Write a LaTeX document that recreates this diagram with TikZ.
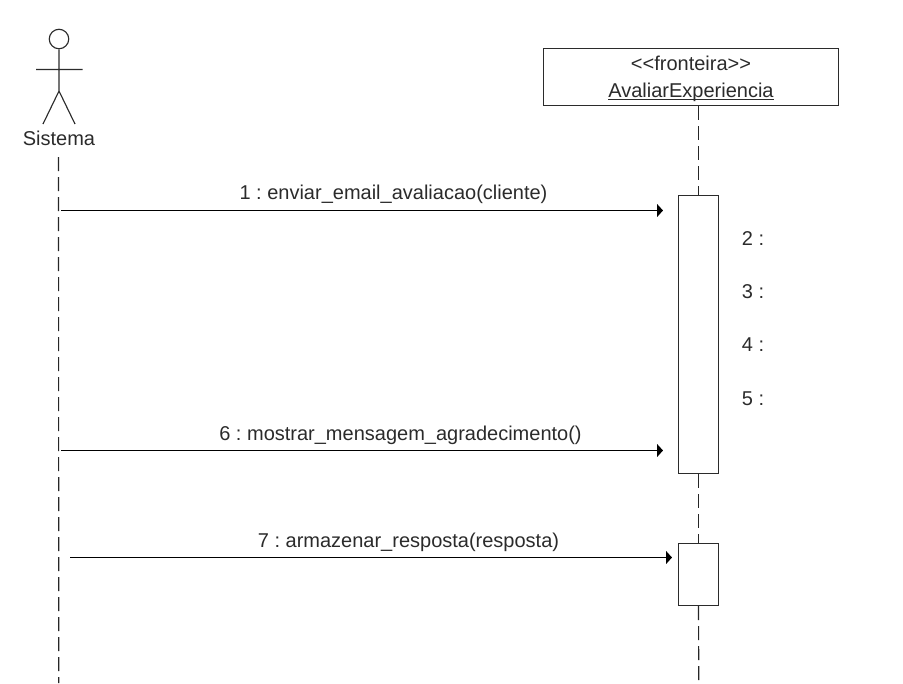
\documentclass[tikz,border=0pt]{standalone}
\usepackage{fontspec}
\setmainfont{Liberation Sans}
\usetikzlibrary{arrows.meta}
\definecolor{inkc}{HTML}{2B2B2B}
\tikzset{
  x=0.75pt,y=-0.75pt,
  label text/.style={anchor=base,inner sep=0pt,text=inkc,font=\fontsize{15}{18}\selectfont\frenchspacing},
  shape line/.style={draw=inkc,line width=0.85pt},
  lifeline/.style={draw=black!85,line width=0.85pt,dash pattern=on 10.5pt off 4.5pt},
  message/.style={draw=black,line width=0.95pt,-{Triangle[length=4.4pt,width=9.5pt]}},
  frame box/.style={shape line,fill=white,rectangle,inner sep=0pt,minimum width=221.25pt,minimum height=42.75pt},
  activation/.style={shape line,fill=white,rectangle,inner sep=0pt,minimum width=30pt}
}
\begin{document}
\begin{tikzpicture}
\useasboundingbox (0,0) rectangle (903,683);
% actor
\node[shape line,circle,inner sep=0pt,minimum size=14.6pt] (head) at (59,39) {};
\coordinate (hip) at (59,91);
\coordinate (armL) at (36,69.5);
\coordinate (armR) at (82.5,69.5);
\coordinate (legL) at (43,124);
\coordinate (legR) at (75,124);
\draw[shape line] (head.south) -- (hip) (armL) -- (armR) (legL) -- (hip) -- (legR);
\node[label text] (sistema) at (59,145) {Sistema};
% boundary object
\node[frame box] (frame) at (691,77) {};
\node[label text] (stereo) at (691,70) {<{}<fronteira>{}>};
\node[label text] (objname) at (691,97) {\underline{\smash{AvaliarExperiencia}}};
% activations
\node[activation,minimum height=208.5pt] (act1) at (698.5,334.5) {};
\node[activation,minimum height=46.5pt] (act2) at (698.5,574.5) {};
% lifelines
\coordinate (sysTop) at (58.5,157);
\coordinate (sysEnd) at (58.8,683);
\coordinate (objEnd) at (698.8,680);
\draw[lifeline] (sysTop) -- (sysEnd);
\draw[lifeline] (frame.south -| act1.north) -- (act1.north);
\draw[lifeline] (act1.south) -- (act2.north);
\draw[lifeline] (act2.south) -- (objEnd);
% messages
\coordinate (m1s) at (61,210.5);
\coordinate (m1e) at (663,210.5);
\coordinate (m6s) at (61,450.5);
\coordinate (m6e) at (663,450.5);
\coordinate (m7s) at (70,557.5);
\coordinate (m7e) at (672,557.5);
\draw[message] (m1s) -- (m1e);
\draw[message] (m6s) -- (m6e);
\draw[message] (m7s) -- (m7e);
\node[label text] (l1) at (393.5,199) {1 : enviar\_email\_avaliacao(cliente)};
\node[label text] (l2) at (753,245) {2 :};
\node[label text] (l3) at (753,298) {3 :};
\node[label text] (l4) at (753,351) {4 :};
\node[label text] (l5) at (753,405) {5 :};
\node[label text] (l6) at (400.5,440) {6 : mostrar\_mensagem\_agradecimento()};
\node[label text] (l7) at (408.5,547) {7 : armazenar\_resposta(resposta)};
\end{tikzpicture}
\end{document}
